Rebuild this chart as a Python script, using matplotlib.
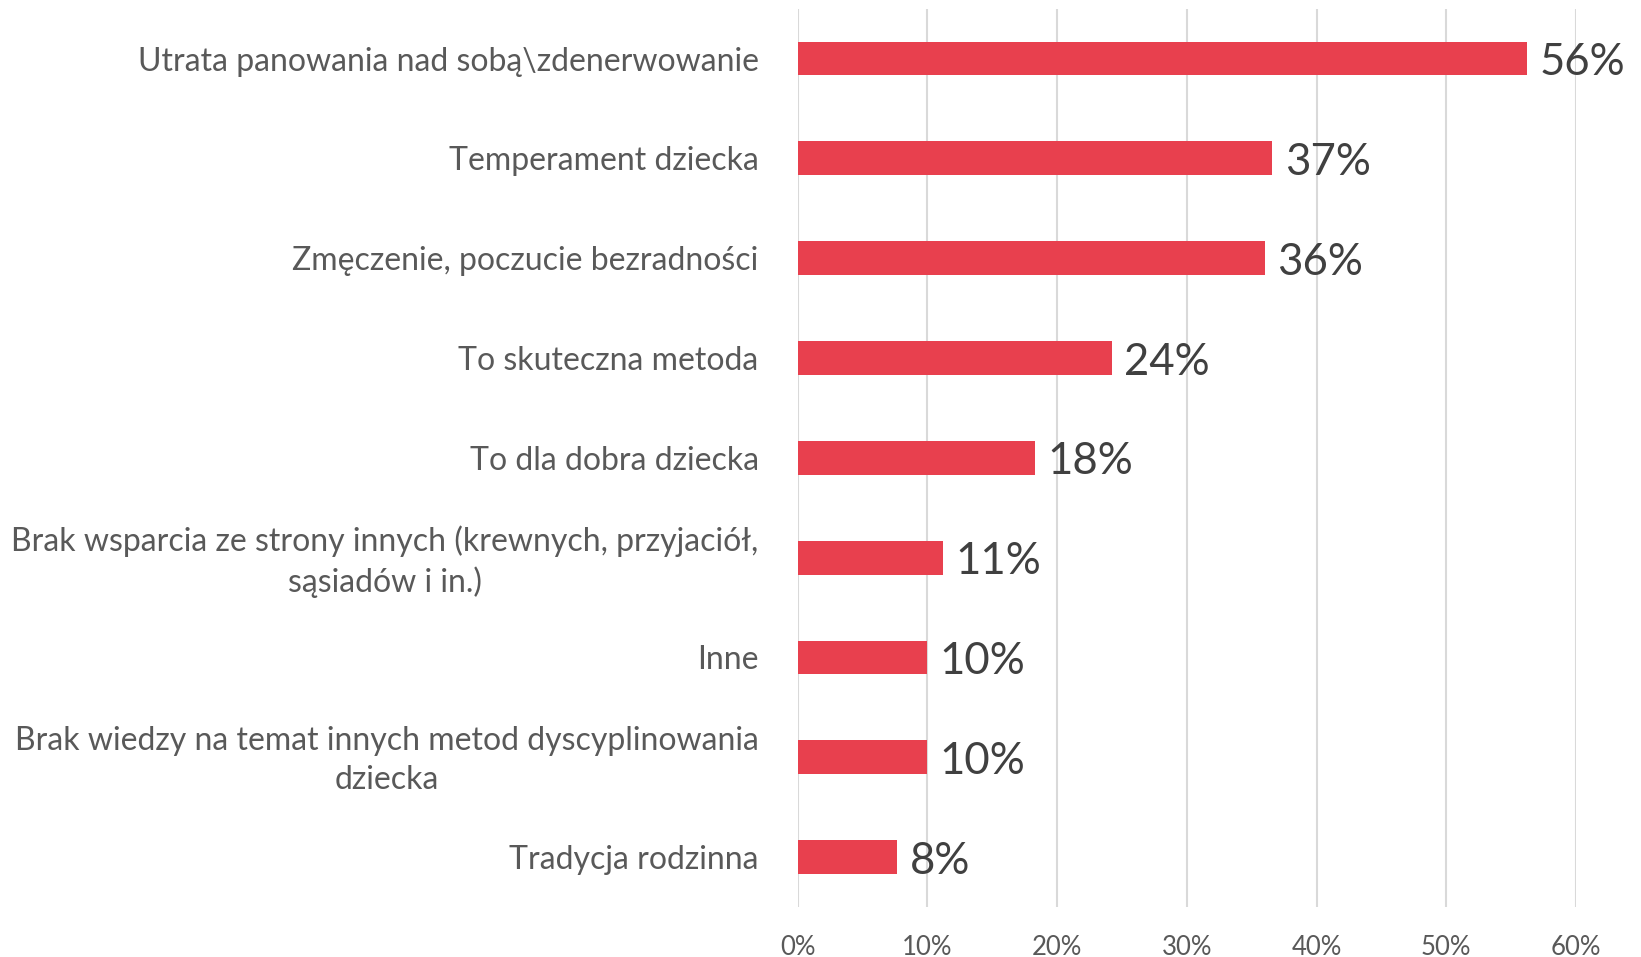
import matplotlib.pyplot as plt
from matplotlib.ticker import FuncFormatter
from matplotlib.transforms import ScaledTranslation

categories = [
    "Utrata panowania nad sobą\\zdenerwowanie",
    "Temperament dziecka",
    "Zmęczenie, poczucie bezradności",
    "To skuteczna metoda",
    "To dla dobra dziecka",
    "Brak wsparcia ze strony innych (krewnych, przyjaciół,\nsąsiadów i in.)",
    "Inne",
    "Brak wiedzy na temat innych metod dyscyplinowania\ndziecka",
    "Tradycja rodzinna",
]
values = [56.2, 36.6, 36.0, 24.2, 18.3, 11.2, 10.0, 10.0, 7.7]
labels = ["56%", "37%", "36%", "24%", "18%", "11%", "10%", "10%", "8%"]
ticks = [0, 10, 20, 30, 40, 50, 60]

plt.rcParams['font.family'] = ['Lato', 'DejaVu Sans']

fig = plt.figure(figsize=(16.41, 9.57), dpi=100)
ax = fig.add_axes([0.486, 0.0522, 0.9604 - 0.486, 0.991 - 0.0522])

y = list(range(len(categories)))
ax.barh(y, values, height=0.34, color='#E8404E', zorder=3)

for yi, v, lab in zip(y, values, labels):
    ax.annotate(lab, (v, yi), xytext=(9, -3), textcoords='offset points',
                va='center', ha='left', fontsize=31.5, color='#404040')

ax.set_ylim(len(categories) - 0.5, -0.5)
ax.set_xlim(0, 60)
ax.set_xticks(ticks)
ax.xaxis.set_major_formatter(FuncFormatter(lambda v, p: f"{int(v)}%"))
ax.set_yticks(y)
ax.set_yticklabels(categories, fontsize=23, color='#595959', multialignment='center')
ax.tick_params(axis='y', length=0, pad=28)
ax.tick_params(axis='x', length=0, pad=20, labelsize=18.5, labelcolor='#595959')
# two-line labels: wider line gap, nudged up a little
for t in ax.get_yticklabels():
    t.set_linespacing(1.38)
    if "\n" in t.get_text():
        t.set_transform(t.get_transform() + ScaledTranslation(0, 0.04, fig.dpi_scale_trans))
ax.grid(axis='x', color='#D9D9D9', linewidth=1.5, zorder=0)
for s in ax.spines.values():
    s.set_visible(False)

fig.savefig('out.png', dpi=100)
